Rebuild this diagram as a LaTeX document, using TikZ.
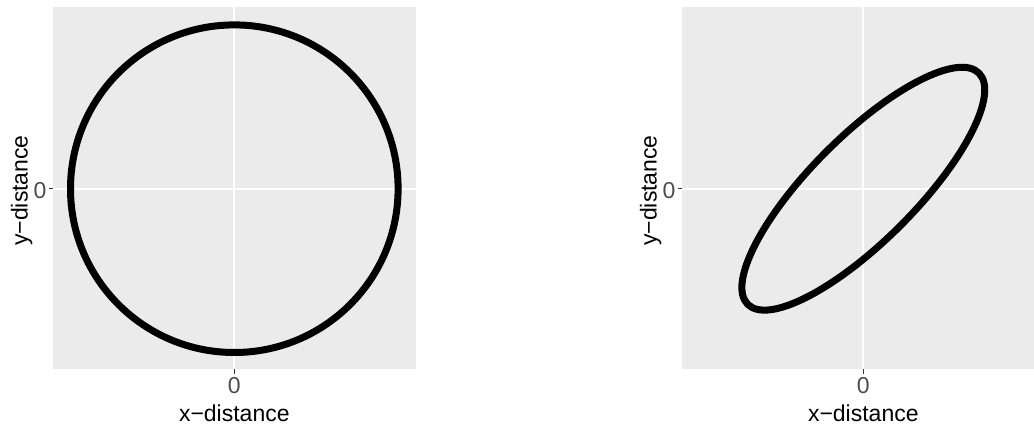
\documentclass[tikz,border=0pt]{standalone}
\usepackage{fontspec}
\setmainfont{Liberation Sans}
\begin{document}
\begin{tikzpicture}[x=1pt,y=1pt,
  panel/.style={fill={rgb,255:red,235;green,235;blue,235}, draw=none},
  gridline/.style={draw=white, line width=2pt},
  tickmark/.style={draw={rgb,255:red,51;green,51;blue,51}, line width=1.3pt},
  ticklabel/.style={inner sep=0pt, text={rgb,255:red,77;green,77;blue,77}, font=\fontsize{23}{27}\selectfont},
  axtitle/.style={inner sep=0pt, text=black, font=\fontsize{23}{27}\selectfont},
  curve/.style={draw=black, line width=7pt}
]
\useasboundingbox (0,0) rectangle (1034,424);
\fill[white] (0,0) rectangle (1034,424);

% ---------- left panel ----------
\fill[panel] (53,55) rectangle (416,417);
\coordinate (lc) at (234.3,235.3);
\coordinate (lxb) at (234.3,55);
\coordinate (lxt) at (234.3,417);
\coordinate (lyl) at (53,235.3);
\coordinate (lyr) at (416,235.3);
\draw[gridline] (lxb) -- (lxt);
\draw[gridline] (lyl) -- (lyr);
\draw[curve] (lc) circle[radius=163.8];
\coordinate (lxtk) at (234.3,50.5);
\coordinate (lytk) at (48.5,235.3);
\draw[tickmark] (lxb) -- (lxtk);
\draw[tickmark] (lyl) -- (lytk);
\node[ticklabel, anchor=base] (lx0) at (234.3,31) {0};
\node[ticklabel, anchor=base east] (ly0) at (46.5,225.7) {0};
\node[axtitle, anchor=base] (lxtitle) at (234.3,2.5) {x−distance};
\node[axtitle, anchor=base, rotate=90] (lytitle) at (27.7,233.5) {y−distance};

% ---------- right panel ----------
\fill[panel] (682,55) rectangle (1034,417);
\coordinate (rc) at (863.3,235.3);
\coordinate (rxb) at (863.3,55);
\coordinate (rxt) at (863.3,417);
\coordinate (ryl) at (682,235.3);
\coordinate (ryr) at (1034,235.3);
\draw[gridline] (rxb) -- (rxt);
\draw[gridline] (ryl) -- (ryr);
\draw[curve, rotate around={45:(rc)}] (rc) ellipse[x radius=163.5, y radius=52.4];
\coordinate (rxtk) at (863.3,50.5);
\coordinate (rytk) at (677.5,235.3);
\draw[tickmark] (rxb) -- (rxtk);
\draw[tickmark] (ryl) -- (rytk);
\node[ticklabel, anchor=base] (rx0) at (863.3,31) {0};
\node[ticklabel, anchor=base east] (ry0) at (675.5,225.7) {0};
\node[axtitle, anchor=base] (rxtitle) at (863.3,2.5) {x−distance};
\node[axtitle, anchor=base, rotate=90] (rytitle) at (656.7,233.5) {y−distance};
\end{tikzpicture}
\end{document}
